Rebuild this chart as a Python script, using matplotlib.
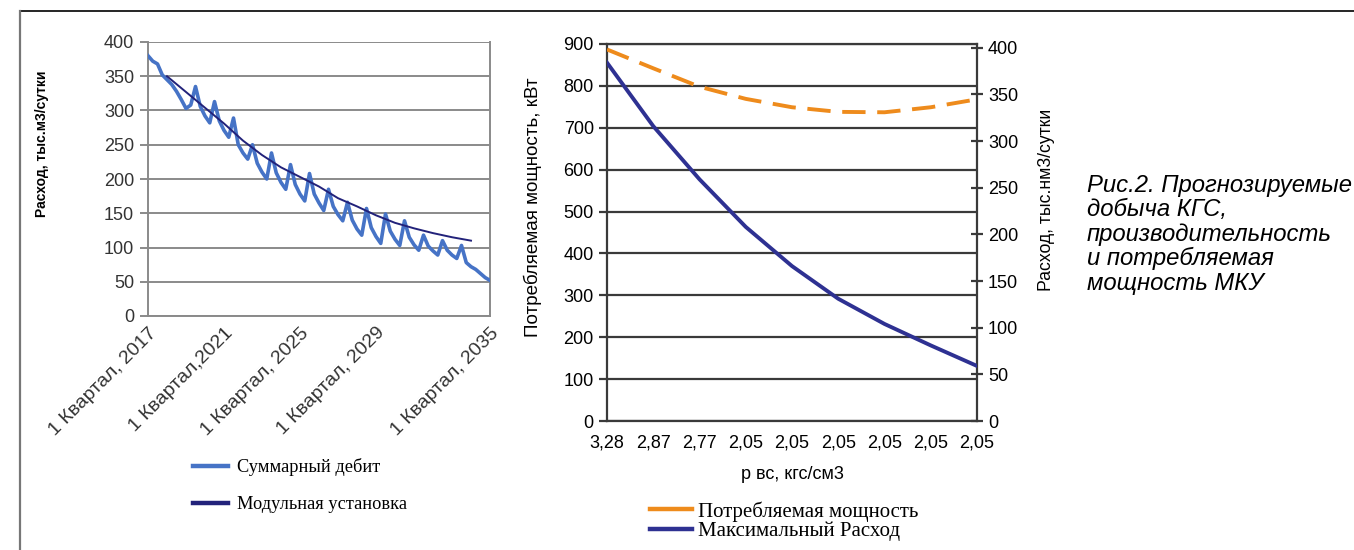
import matplotlib.pyplot as plt
import numpy as np
from matplotlib.lines import Line2D

plt.rcParams['font.family'] = ['Liberation Sans', 'DejaVu Sans']

# Left chart: quarterly forecast, 1 quarter 2017 .. 1 quarter 2035
debit = [380, 372, 368, 352, 345, 338, 328, 316, 303, 308,
         335, 306, 292, 282, 313, 285, 271, 261, 289, 250,
         238, 229, 250, 223, 210, 200, 238, 209, 195, 185,
         221, 192, 178, 168, 208, 178, 165, 154, 185, 160,
         148, 139, 166, 140, 127, 118, 157, 129, 116, 106,
         149, 124, 112, 103, 139, 115, 104, 96, 118, 102,
         95, 89, 110, 96, 89, 84, 103, 78, 72, 68,
         62, 56, 52]
module_q = [4, 8, 12, 16, 20, 24, 28, 32, 36, 40, 44, 48, 52, 56, 60, 64, 68]
module = [350, 327, 304, 281, 256, 235, 217, 203, 189, 172, 160, 147, 136,
          128, 121, 115, 110]
quarter_ticks = [0, 16, 32, 48, 72]
quarter_labels = ['1 Квартал, 2017', '1 Квартал,2021', '1 Квартал, 2025',
                  '1 Квартал, 2029', '1 Квартал, 2035']

# Right chart: power and max flow vs wellhead pressure
p_labels = ['3,28', '2,87', '2,77', '2,05', '2,05', '2,05', '2,05', '2,05', '2,05']
power = [887, 842, 798, 769, 749, 738, 737, 749, 768]
flow = [384, 316, 259, 208, 166, 131, 104, 81, 59]

W, H = 1354, 550
fig = plt.figure(figsize=(W / 100, H / 100), dpi=100)

DEBIT_C = '#4673C6'
MODULE_C = '#22227A'
POWER_C = '#EE8B1C'
FLOW_C = '#2E3192'


def box(x0, y0, x1, y1):
    return [x0 / W, 1 - y1 / H, (x1 - x0) / W, (y1 - y0) / H]


# page frame
fig.add_artist(Line2D([20 / W, 1], [1 - 11 / H] * 2, color='black', lw=1.2))
fig.add_artist(Line2D([20 / W] * 2, [0, 1 - 11 / H], color='#777777', lw=1.6))

# ---- left chart
ax = fig.add_axes(box(148, 42, 490, 316))
q = np.arange(len(debit))
ax.plot(q, debit, color=DEBIT_C, lw=2.6, solid_joinstyle='round', zorder=3)
ax.plot(module_q, module, color=MODULE_C, lw=1.4, zorder=4)
ax.set_xlim(0, 72)
ax.set_ylim(0, 400)
ax.set_yticks(range(0, 401, 50))
ax.grid(axis='y', color='#8a8a8a', lw=1.4)
ax.set_axisbelow(True)
for s in ax.spines.values():
    s.set_color('#8a8a8a')
    s.set_linewidth(1.4)
ax.spines['top'].set_visible(False)
ax.tick_params(axis='y', length=6, width=1.4, color='#8a8a8a',
               labelsize=13, labelcolor='#333333', pad=4)
ax.set_xticks(quarter_ticks)
ax.set_xticklabels(quarter_labels, rotation=45, ha='right', va='top',
                   rotation_mode='anchor')
ax.tick_params(axis='x', length=0, labelsize=14, labelcolor='#333333', pad=6)
ax.set_ylabel('Расход, тыс.м3/сутки', fontsize=10, fontweight='bold')
ax.yaxis.set_label_coords(-0.29, 0.63)
left_handles = [Line2D([], [], color=DEBIT_C, lw=3.2),
                Line2D([], [], color=MODULE_C, lw=3.2)]
fig.legend(handles=left_handles, labels=['Суммарный дебит', 'Модульная установка'],
           loc='upper left', bbox_to_anchor=(193 / W, 1 - 458 / H), frameon=False,
           prop={'family': 'Liberation Serif', 'size': 13.2},
           handlelength=1.9, handletextpad=0.5, labelspacing=1.1,
           borderpad=0, borderaxespad=0)

# ---- right chart
ax2 = fig.add_axes(box(607, 44, 977, 421))
x = np.arange(len(p_labels))
ax2.plot(x, power, color=POWER_C, lw=2.8, dashes=(6, 3), zorder=4)
ax2.set_xlim(0, 8)
ax2.set_ylim(0, 900)
ax2.set_yticks(range(0, 901, 100))
ax2.grid(axis='y', color='#3a3a3a', lw=1.6)
ax2.set_axisbelow(True)
for s in ax2.spines.values():
    s.set_color('#3a3a3a')
    s.set_linewidth(1.6)
ax2.tick_params(axis='y', length=6, width=1.6, color='#3a3a3a', labelsize=13)
ax2.set_xticks(x)
ax2.set_xticklabels(p_labels)
ax2.tick_params(axis='x', length=0, labelsize=13, pad=10)
ax2.set_xlabel('р вс, кгс/см3', fontsize=13, labelpad=10)
ax2.set_ylabel('Потребляемая мощность, кВт', fontsize=13.6)
ax2.yaxis.set_label_coords(-0.175, 0.567)

ax3 = ax2.twinx()
ax3.plot(x, flow, color=FLOW_C, lw=2.8, zorder=4)
ax3.set_ylim(0, 404)
ax3.set_yticks(range(0, 401, 50))
for s in ax3.spines.values():
    s.set_visible(False)
ax3.tick_params(axis='y', direction='inout', length=9, width=1.6,
                color='#3a3a3a', labelsize=13)
ax3.set_ylabel('Расход, тыс.нм3/сутки', fontsize=12.7)
ax3.yaxis.set_label_coords(1.165, 0.586)

right_handles = [Line2D([], [], color=POWER_C, lw=3.2),
                 Line2D([], [], color=FLOW_C, lw=3.2)]
fig.legend(handles=right_handles,
           labels=['Потребляемая мощность', 'Максимальный Расход'],
           loc='upper left', bbox_to_anchor=(650 / W, 1 - 501 / H), frameon=False,
           prop={'family': 'Liberation Serif', 'size': 15},
           handlelength=2.0, handletextpad=0.3, labelspacing=0.0,
           borderpad=0, borderaxespad=0)

# caption
fig.text(1087 / W, 1 - 174 / H,
         'Рис.2. Прогнозируемые\nдобыча КГС,\nпроизводительность\n'
         'и потребляемая\nмощность МКУ',
         ha='left', va='top', fontsize=17.2, style='italic', linespacing=1.08)

fig.savefig('out.png', dpi=100)
